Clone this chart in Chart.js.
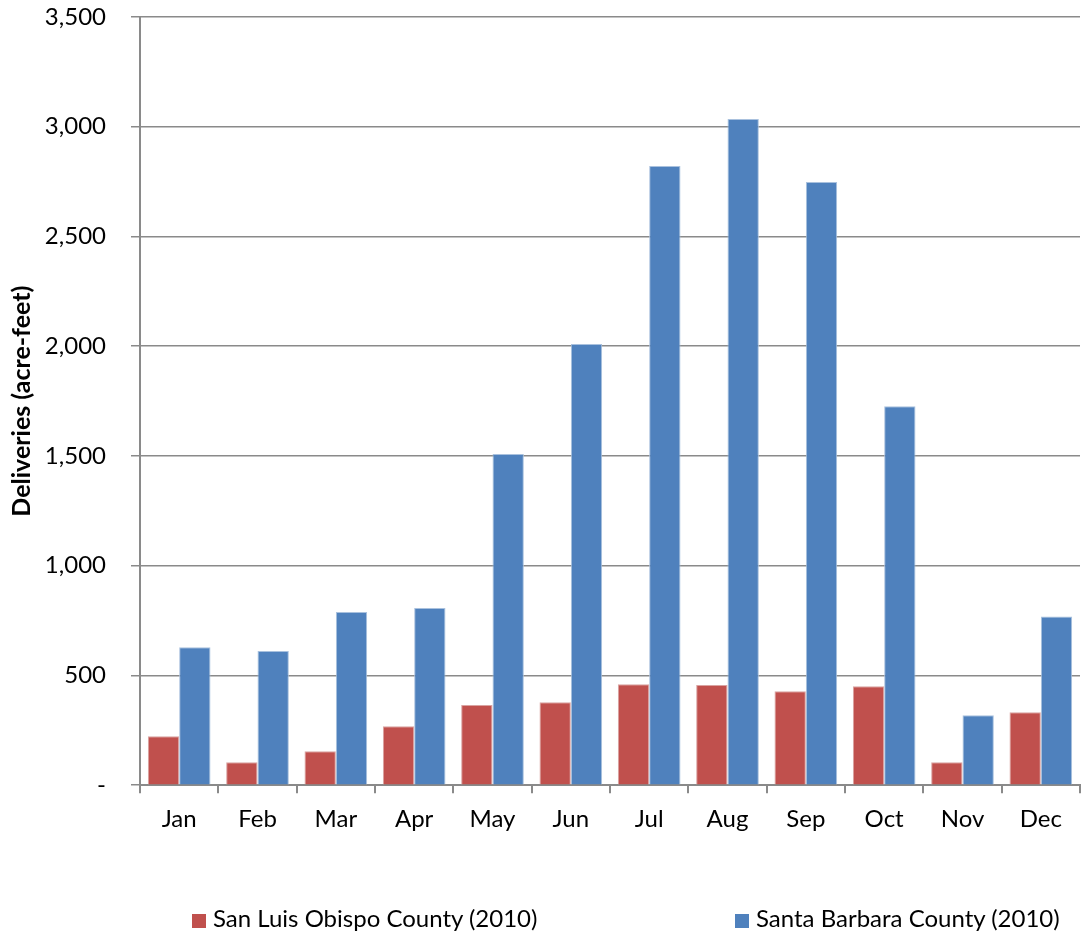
<!DOCTYPE html>
<html>
<head>
<meta charset="utf-8">
<script src="https://cdn.jsdelivr.net/npm/chart.js@4"></script>
<style>
  html, body { margin: 0; padding: 0; background: #fff; }
  #wrap { position: relative; width: 1081px; height: 935px; }
  #legend { position: absolute; left: 0; top: 903px; width: 1081px; height: 30px; }
  .item { position: absolute; top: 0; height: 30px; line-height: 30px; white-space: nowrap;
          font-family: Lato, "Open Sans", sans-serif; font-size: 24px; color: #000; }
  .item i { display: inline-block; width: 14px; height: 14px; margin-right: 7px; vertical-align: -1px; }
</style>
</head>
<body>
<div id="wrap">
  <canvas id="deliveries"></canvas>
  <div id="legend"></div>
</div>
<script>
const months = ['Jan', 'Feb', 'Mar', 'Apr', 'May', 'Jun', 'Jul', 'Aug', 'Sep', 'Oct', 'Nov', 'Dec'];
const sanLuisObispo = [223, 105, 155, 269, 365, 378, 460, 456, 428, 451, 105, 332];
const santaBarbara = [629, 611, 789, 807, 1509, 2010, 2821, 3035, 2748, 1727, 319, 769];
const yTicks = [0, 500, 1000, 1500, 2000, 2500, 3000, 3500];
const legendLeft = [192, 735];

const fontFamily = 'Lato, "Open Sans", sans-serif';
const gridGray = '#8a8a8a';

const ctx = document.getElementById('deliveries').getContext('2d');

const chart = new Chart(ctx, {
  type: 'bar',
  data: {
    labels: months,
    datasets: [{
      label: 'San Luis Obispo County (2010)',
      data: sanLuisObispo,
      backgroundColor: '#C0504D',
      borderColor: '#D9A3A1',
      borderWidth: 1
    }, {
      label: 'Santa Barbara County (2010)',
      data: santaBarbara,
      backgroundColor: '#4F81BD',
      borderColor: '#A9C1DE',
      borderWidth: 1
    }]
  },
  options: {
    responsive: true,
    maintainAspectRatio: false,
    animation: false,
    datasets: {
      bar: { categoryPercentage: 0.8, barPercentage: 1.0 }
    },
    layout: { padding: { top: 17, right: 1, left: 0, bottom: 89 } },
    plugins: {
      tooltip: { enabled: false },
      legend: { display: false }
    },
    scales: {
      x: {
        grid: {
          drawOnChartArea: false,
          drawTicks: true,
          tickLength: 8,
          color: gridGray,
          lineWidth: 2,
          offset: true
        },
        border: { color: gridGray, width: 2 },
        ticks: {
          color: '#000',
          font: { family: fontFamily, size: 24 },
          padding: 12
        }
      },
      y: {
        min: 0,
        max: 3500,
        afterBuildTicks: axis => { axis.ticks = yTicks.map(v => ({ value: v })); },
        afterFit: axis => {
          // pin the axis box so the plot starts where the original's does
          axis.width = 140;
          axis.paddingTop = 0;
          axis.paddingBottom = 0;
        },
        grid: {
          color: gridGray,
          lineWidth: 1.5,
          tickLength: 9
        },
        border: { color: gridGray, width: 2 },
        ticks: {
          color: '#000',
          font: { family: fontFamily, size: 24 },
          padding: 25,
          callback: v => v === 0 ? '-' : v.toLocaleString('en-US')
        },
        title: {
          display: true,
          text: 'Deliveries (acre-feet)',
          color: '#000',
          font: { family: fontFamily, size: 25, weight: 'bold' },
          padding: { top: 7, bottom: 0 }
        }
      }
    }
  }
});

// legend as real text, built from the datasets
const legendEl = document.getElementById('legend');
chart.data.datasets.forEach((ds, i) => {
  const item = document.createElement('div');
  item.className = 'item';
  item.style.left = legendLeft[i] + 'px';
  const box = document.createElement('i');
  box.style.background = ds.backgroundColor;
  item.appendChild(box);
  item.appendChild(document.createTextNode(ds.label));
  legendEl.appendChild(item);
});
</script>
</body>
</html>
